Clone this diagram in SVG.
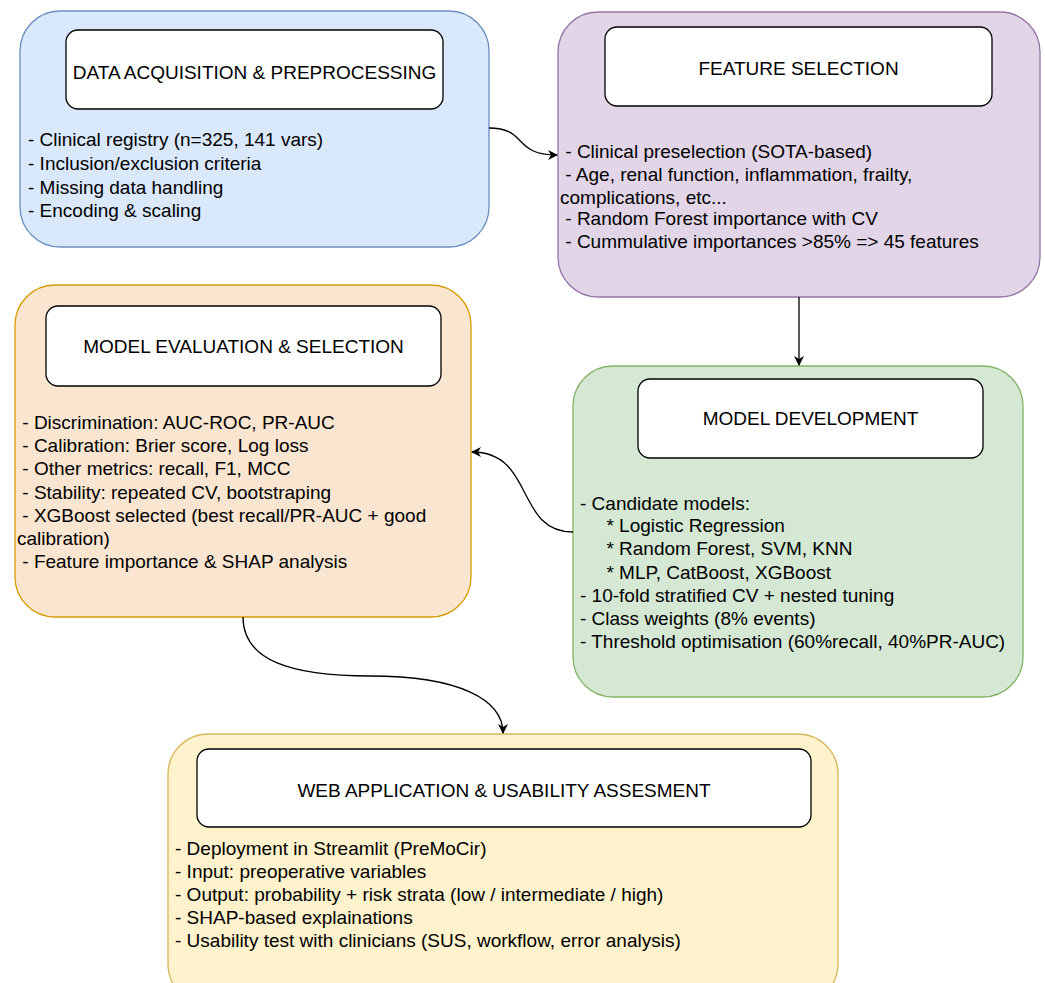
<svg xmlns="http://www.w3.org/2000/svg" width="1045" height="983" viewBox="0 0 1045 983" xml:space="preserve">
<style>
  text { white-space: pre; }
  .title { font-family: "Liberation Sans", Arial, sans-serif; font-size: 19px; fill: #000; text-anchor: middle; }
  .body { font-family: "Liberation Sans", Arial, sans-serif; font-size: 19px; fill: #000; }
  .inner { fill: #ffffff; stroke: #000; stroke-width: 1.3; }
  .edge { fill: none; stroke: #000; stroke-width: 1.3; }
</style>
<defs>
  <marker id="arr" viewBox="0 0 10 10" refX="9" refY="5" markerWidth="10" markerHeight="10" markerUnits="userSpaceOnUse" orient="auto">
    <path d="M0,0 L10,5 L0,10 L3,5 Z" fill="#000"/>
  </marker>
</defs>
<rect width="1045" height="983" fill="#ffffff"/>

<g id="data-acquisition">
  <rect x="20" y="11" width="469" height="236" rx="40" fill="#dae8fc" stroke="#6c8ebf" stroke-width="1.3"/>
  <rect class="inner" x="66" y="30" width="377" height="79" rx="12"/>
  <text class="title" x="254.5" y="79">DATA ACQUISITION &amp; PREPROCESSING</text>
  <text class="body" x="28" y="146">- Clinical registry (n=325, 141 vars)</text>
  <text class="body" x="28" y="170">- Inclusion/exclusion criteria</text>
  <text class="body" x="28" y="194">- Missing data handling</text>
  <text class="body" x="28" y="217">- Encoding &amp; scaling</text>
</g>

<g id="feature-selection">
  <rect x="558" y="12" width="482" height="285" rx="40" fill="#e1d5e7" stroke="#9673a6" stroke-width="1.3"/>
  <rect class="inner" x="605" y="27" width="387" height="79" rx="12"/>
  <text class="title" x="798.5" y="75">FEATURE SELECTION</text>
  <text class="body" x="560" y="158"> - Clinical preselection (SOTA-based)</text>
  <text class="body" x="560" y="181"> - Age, renal function, inflammation, frailty,</text>
  <text class="body" x="560" y="204">complications, etc...</text>
  <text class="body" x="560" y="225"> - Random Forest importance with CV</text>
  <text class="body" x="560" y="248"> - Cummulative importances &gt;85% =&gt; 45 features</text>
</g>

<g id="model-evaluation">
  <rect x="15" y="285" width="456" height="332" rx="40" fill="#fae6d0" stroke="#d79b00" stroke-width="1.3"/>
  <rect class="inner" x="46" y="306" width="395" height="80" rx="12"/>
  <text class="title" x="243.5" y="353">MODEL EVALUATION &amp; SELECTION</text>
  <text class="body" x="17" y="429"> - Discrimination: AUC-ROC, PR-AUC</text>
  <text class="body" x="17" y="452"> - Calibration: Brier score, Log loss</text>
  <text class="body" x="17" y="475"> - Other metrics: recall, F1, MCC</text>
  <text class="body" x="17" y="499"> - Stability: repeated CV, bootstraping</text>
  <text class="body" x="17" y="522"> - XGBoost selected (best recall/PR-AUC + good</text>
  <text class="body" x="17" y="545">calibration)</text>
  <text class="body" x="17" y="568"> - Feature importance &amp; SHAP analysis</text>
</g>

<g id="model-development">
  <rect x="573" y="366" width="450" height="331" rx="40" fill="#d5e8d4" stroke="#82b366" stroke-width="1.3"/>
  <rect class="inner" x="638" y="379" width="345" height="79" rx="12"/>
  <text class="title" x="810.5" y="425">MODEL DEVELOPMENT</text>
  <text class="body" x="580" y="510">- Candidate models:</text>
  <text class="body" x="580" y="532">     * Logistic Regression</text>
  <text class="body" x="580" y="555">     * Random Forest, SVM, KNN</text>
  <text class="body" x="580" y="579">     * MLP, CatBoost, XGBoost</text>
  <text class="body" x="580" y="602">- 10-fold stratified CV + nested tuning</text>
  <text class="body" x="580" y="625">- Class weights (8% events)</text>
  <text class="body" x="580" y="648">- Threshold optimisation (60%recall, 40%PR-AUC)</text>
</g>

<g id="web-application">
  <rect x="168" y="734" width="670" height="270" rx="40" fill="#fff2cc" stroke="#d6b656" stroke-width="1.3"/>
  <rect class="inner" x="197" y="749" width="614" height="78" rx="12"/>
  <text class="title" x="504" y="797">WEB APPLICATION &amp; USABILITY ASSESMENT</text>
  <text class="body" x="175" y="855">- Deployment in Streamlit (PreMoCir)</text>
  <text class="body" x="175" y="878">- Input: preoperative variables</text>
  <text class="body" x="175" y="901">- Output: probability + risk strata (low / intermediate / high)</text>
  <text class="body" x="175" y="924">- SHAP-based explainations</text>
  <text class="body" x="175" y="947">- Usability test with clinicians (SUS, workflow, error analysis)</text>
</g>

<g id="connectors">
  <path class="edge" d="M489,128 C528,128 512,155 557,155" marker-end="url(#arr)"/>
  <path class="edge" d="M799,297 L799,365" marker-end="url(#arr)"/>
  <path class="edge" d="M573,532 C515,532 535,452 472,452" marker-end="url(#arr)"/>
  <path class="edge" d="M243,617 C243,660 290,676 370,676 C460,676 503,700 503,733" marker-end="url(#arr)"/>
</g>
</svg>
